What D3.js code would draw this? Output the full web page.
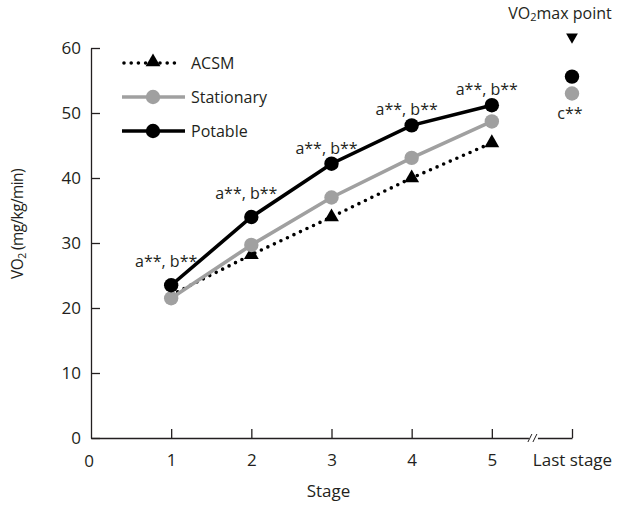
<!DOCTYPE html>
<html>
<head>
<meta charset="utf-8">
<script src="https://cdn.jsdelivr.net/npm/d3@7"></script>
<style>
  body { margin: 0; background: #fff; }
  svg text { font-family: "Open Sans", sans-serif; fill: #231f20; }
</style>
</head>
<body>
<main></main>
<script>
const stages = [1, 2, 3, 4, 5]
const acsm = [22.0, 28.2, 34.0, 40.0, 45.4]
const stationary = [21.5, 29.7, 37.0, 43.1, 48.7]
const potable = [23.5, 34.0, 42.2, 48.1, 51.2]
const sigLabels = ['a**, b**', 'a**, b**', 'a**, b**', 'a**, b**', 'a**, b**']
const maxStage = 6
const maxPotable = 55.6
const maxStationary = 53.0
const xTicks = [0, 1, 2, 3, 4, 5, 6]
const xTickLabels = ['0', '1', '2', '3', '4', '5', 'Last stage']
const yTicks = [0, 10, 20, 30, 40, 50, 60]

const width = 626
const height = 505

const svg = d3.select('main')
  .append('svg')
  .attr('width', width)
  .attr('height', height)

const x = d3.scaleLinear().domain([0, 6]).range([91, 572])
const y = d3.scaleLinear().domain([0, 60]).range([438, 48])

// Axes (ticks point inward)
const yAxis = d3.axisLeft(y).tickValues(yTicks).tickSizeInner(-9).tickSizeOuter(0).tickPadding(10)
const gy = svg.append('g').attr('transform', `translate(${x(0)},0)`).call(yAxis)
gy.selectAll('text').style('font-size', '17px')

const xAxis = d3.axisBottom(x).tickValues(xTicks.slice(1)).tickSizeInner(-9).tickSizeOuter(0)
  .tickFormat((d) => xTickLabels[xTicks.indexOf(d)])
  .tickPadding(16)
const gx = svg.append('g').attr('transform', `translate(0,${y(0)})`).call(xAxis)
gx.selectAll('text').style('font-size', '17px')

svg.selectAll('.domain, .tick line').attr('stroke', '#231f20').attr('stroke-width', 1.3)

// "0" at the origin
svg.append('text')
  .attr('x', x(0) - 2).attr('y', y(0) + 29)
  .attr('text-anchor', 'middle')
  .style('font-size', '17px')
  .text('0')

// axis break
const bx = x(5.5) + 3
svg.append('rect').attr('x', bx - 6).attr('y', y(0) - 3).attr('width', 9).attr('height', 6).attr('fill', '#fff')
;[-5, 0].forEach((o) => {
  svg.append('line')
    .attr('x1', bx + o - 2).attr('y1', y(0) + 4)
    .attr('x2', bx + o + 2).attr('y2', y(0) - 4)
    .attr('stroke', '#231f20').attr('stroke-width', 1)
})

// Axis titles
svg.append('text')
  .attr('x', x(3) - 3).attr('y', 497)
  .attr('text-anchor', 'middle')
  .style('font-size', '17px')
  .text('Stage')

svg.append('text')
  .attr('transform', 'translate(23,224) rotate(-90)')
  .attr('text-anchor', 'middle')
  .style('font-size', '15.5px')
  .style('letter-spacing', '-0.6px')
  .html('VO<tspan font-size="10.5px" dy="3">2</tspan><tspan dy="-3"> (mg/kg/min)</tspan>')

// Lines
const line = d3.line().x((d) => x(d[0])).y((d) => y(d[1]))
const zipped = (vals) => stages.map((s, i) => [s, vals[i]])

svg.append('path').datum(zipped(acsm)).attr('d', line)
  .attr('fill', 'none').attr('stroke', '#000').attr('stroke-width', 3.6)
  .attr('stroke-linecap', 'round').attr('stroke-dasharray', '0 7.2')

svg.append('path').datum(zipped(stationary)).attr('d', line)
  .attr('fill', 'none').attr('stroke', '#a0a0a0').attr('stroke-width', 3.6)

svg.append('path').datum(zipped(potable)).attr('d', line)
  .attr('fill', 'none').attr('stroke', '#000').attr('stroke-width', 3.6)

const tri = d3.symbol().type(d3.symbolTriangle).size(95)

svg.append('g').selectAll('path')
  .data(zipped(acsm).slice(1))
  .enter().append('path')
  .attr('d', tri)
  .attr('transform', (d) => `translate(${x(d[0])},${y(d[1])})`)
  .attr('fill', '#000')

svg.append('g').selectAll('circle')
  .data(zipped(stationary))
  .enter().append('circle')
  .attr('cx', (d) => x(d[0])).attr('cy', (d) => y(d[1])).attr('r', 7.2)
  .attr('fill', '#a0a0a0')

svg.append('g').selectAll('circle')
  .data(zipped(potable))
  .enter().append('circle')
  .attr('cx', (d) => x(d[0])).attr('cy', (d) => y(d[1])).attr('r', 7.2)
  .attr('fill', '#000')

// significance labels
svg.append('g').selectAll('text')
  .data(zipped(potable))
  .enter().append('text')
  .attr('x', (d) => x(d[0]) - 5)
  .attr('y', (d, i) => y(d[1]) - (i < 2 ? 18 : 10))
  .attr('text-anchor', 'middle')
  .style('font-size', '16px')
  .text((d, i) => sigLabels[i])

// VO2max points
svg.append('circle').attr('cx', x(maxStage)).attr('cy', y(maxPotable)).attr('r', 7.2).attr('fill', '#000')
svg.append('circle').attr('cx', x(maxStage)).attr('cy', y(maxStationary)).attr('r', 7.2).attr('fill', '#a0a0a0')
svg.append('text')
  .attr('x', x(maxStage) - 2).attr('y', y(maxStationary) + 25)
  .attr('text-anchor', 'middle')
  .style('font-size', '16px')
  .text('c**')

svg.append('path')
  .attr('d', d3.symbol().type(d3.symbolTriangle).size(60))
  .attr('transform', `translate(${x(maxStage)},37) rotate(180)`)
  .attr('fill', '#000')

svg.append('text')
  .attr('x', x(maxStage) - 12).attr('y', 19)
  .attr('text-anchor', 'middle')
  .style('font-size', '16px')
  .html('VO<tspan font-size="11px" dy="2">2</tspan><tspan dy="-2">max point</tspan>')

// Legend
const legend = svg.append('g').attr('transform', 'translate(122,63)')
const legendItems = [
  { name: 'ACSM', color: '#000', dash: '0 7.2', marker: 'tri' },
  { name: 'Stationary', color: '#a0a0a0', dash: null, marker: 'circle' },
  { name: 'Potable', color: '#000', dash: null, marker: 'circle' }
]
legendItems.forEach((item, i) => {
  const g = legend.append('g').attr('transform', `translate(0,${i * 34})`)
  g.append('line')
    .attr('x1', item.dash ? 2 : 0).attr('x2', item.dash ? 56 : 63)
    .attr('stroke', item.color).attr('stroke-width', 3.6)
    .attr('stroke-linecap', item.dash ? 'round' : 'butt')
    .attr('stroke-dasharray', item.dash)
  if (item.marker === 'tri') {
    g.append('path').attr('d', tri).attr('transform', 'translate(31,-1)').attr('fill', item.color)
  } else {
    g.append('circle').attr('cx', 31).attr('r', 7.2).attr('fill', item.color)
  }
  g.append('text')
    .attr('x', 69).attr('y', 0).attr('dy', '0.35em')
    .style('font-size', '16px')
    .text(item.name)
})
</script>
</body>
</html>
